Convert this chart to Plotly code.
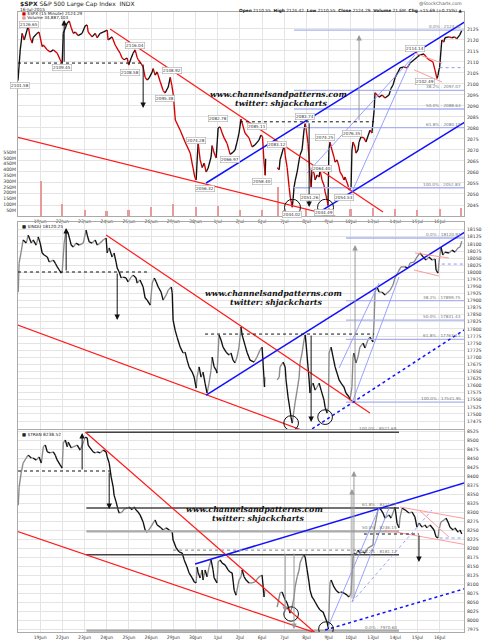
import plotly.graph_objects as go

# ---------------- data ----------------
day_labels = ["19Jun", "22Jun", "23Jun", "24Jun", "25Jun", "26Jun", "29Jun", "30Jun", "1Jul", "2Jul",
              "6Jul", "7Jul", "8Jul", "9Jul", "10Jul", "13Jul", "14Jul", "15Jul", "16Jul"]
day_ticks = list(range(1, 20))   # session index (0 = 18Jun)

# $SPX 15-min closes (session time, price)
spx_pts = [
    (0.00, 2101.6), (0.10, 2115.5), (0.19, 2123.0), (0.28, 2120.0), (0.46, 2126.4), (0.55, 2121.0),
    (0.64, 2118.6), (0.68, 2121.0), (0.86, 2123.0), (0.95, 2123.6),
    (1.09, 2117.0), (1.14, 2117.7), (1.32, 2115.5), (1.45, 2114.5), (1.59, 2115.5), (1.77, 2114.0),
    (1.90, 2111.0), (1.99, 2109.5),
    (2.04, 2123.0), (2.22, 2127.7), (2.31, 2128.6), (2.40, 2125.5), (2.49, 2123.0), (2.58, 2123.6),
    (2.71, 2122.0), (2.89, 2123.0),
    (3.03, 2126.4), (3.12, 2126.8), (3.16, 2123.6), (3.34, 2121.4), (3.48, 2123.0), (3.57, 2121.0),
    (3.70, 2123.0), (3.84, 2123.6),
    (4.02, 2124.5), (4.06, 2120.0), (4.24, 2121.4), (4.38, 2117.7), (4.51, 2115.5), (4.60, 2114.0),
    (4.69, 2111.8), (4.78, 2111.0), (4.92, 2111.8), (4.99, 2108.6),
    (5.10, 2111.8), (5.19, 2114.0), (5.28, 2115.5), (5.37, 2112.0), (5.42, 2111.0), (5.50, 2110.0),
    (5.64, 2107.7), (5.73, 2103.0), (5.82, 2101.8), (5.91, 2102.7),
    (6.05, 2105.5), (6.09, 2107.0), (6.18, 2104.0), (6.27, 2105.5), (6.41, 2101.0), (6.54, 2097.0),
    (6.63, 2095.9), (6.77, 2098.6), (6.86, 2103.0), (6.93, 2099.5),
    (7.00, 2095.0), (7.09, 2083.6), (7.31, 2079.0), (7.53, 2073.6), (7.76, 2068.6), (7.89, 2061.8),
    (7.97, 2057.6),
    (8.03, 2056.4), (8.08, 2066.8), (8.12, 2073.0), (8.21, 2065.5), (8.30, 2062.0), (8.39, 2064.0),
    (8.48, 2060.0), (8.57, 2061.8), (8.70, 2066.8), (8.75, 2072.0), (8.84, 2068.6), (8.93, 2066.4),
    (9.02, 2080.0), (9.11, 2080.5), (9.20, 2077.7), (9.29, 2075.5), (9.42, 2073.0), (9.56, 2068.0),
    (9.69, 2069.0), (9.78, 2070.0), (9.87, 2073.6), (9.96, 2077.7),
    (10.05, 2084.0), (10.23, 2077.7), (10.41, 2075.5), (10.55, 2071.4), (10.68, 2072.3),
    (10.86, 2074.5), (10.95, 2076.8),
    (11.02, 2076.0), (11.08, 2065.5), (11.14, 2058.5), (11.16, 2066.0), (None, None),
    (11.68, 2062.0), (11.77, 2061.0), (11.81, 2065.5), (11.90, 2068.6),
    (12.00, 2072.3), (12.04, 2067.7), (12.13, 2062.0), (12.22, 2053.0), (12.27, 2048.6),
    (12.36, 2044.0), (12.40, 2048.0), (12.44, 2053.0), (12.49, 2056.0), (12.58, 2060.0),
    (12.67, 2065.5), (12.71, 2067.7), (12.80, 2070.0), (12.89, 2079.0), (12.94, 2082.0), (12.98, 2080.0),
    (13.07, 2073.0), (13.12, 2065.5), (13.16, 2057.7), (13.21, 2053.0), (13.25, 2061.0),
    (13.34, 2059.5), (13.39, 2056.4), (13.48, 2058.6), (13.57, 2057.7), (13.61, 2061.0),
    (13.70, 2056.4), (13.79, 2054.0), (13.84, 2051.0), (13.93, 2047.3), (13.97, 2044.8),
    (14.01, 2070.0), (14.06, 2073.6), (14.15, 2070.0), (14.24, 2066.8), (14.29, 2064.5),
    (14.38, 2065.5), (14.47, 2062.3), (14.51, 2060.0), (14.60, 2058.6), (14.69, 2056.4),
    (14.74, 2057.7), (14.87, 2054.0), (14.92, 2051.8),
    (15.01, 2053.0), (15.05, 2070.0), (15.10, 2073.6), (15.19, 2071.4), (15.23, 2068.6),
    (15.32, 2070.0), (15.37, 2073.6), (15.46, 2076.0), (15.59, 2075.5), (15.68, 2073.6),
    (15.82, 2077.7), (15.86, 2079.0), (15.95, 2077.7),
    (16.05, 2088.0), (16.09, 2096.0), (16.27, 2094.0), (16.41, 2095.0), (16.54, 2093.6),
    (16.72, 2095.0), (16.81, 2098.0), (16.90, 2099.5),
    (17.00, 2103.0), (17.13, 2105.5), (17.22, 2107.3), (17.40, 2107.7), (17.54, 2107.3),
    (17.67, 2109.5), (17.85, 2111.0),
    (18.00, 2112.3), (18.12, 2113.2), (18.30, 2113.6), (18.43, 2111.8), (18.52, 2111.0),
    (18.70, 2110.0), (18.79, 2106.4), (18.88, 2102.5), (18.93, 2104.0), (18.97, 2106.4),
    (19.00, 2107.4), (19.10, 2120.0), (19.19, 2119.0), (19.24, 2121.0), (19.42, 2121.4),
    (19.55, 2121.0), (19.68, 2121.4), (19.77, 2120.5), (19.91, 2122.3), (20.00, 2124.3),
]

# $INDU 15-min closes
indu_pts = [
    (0.01, 17930), (0.05, 18032), (0.14, 18071), (0.23, 18114), (0.37, 18103), (0.46, 18131),
    (0.60, 18103), (0.68, 18114), (0.82, 18096), (0.91, 18125),
    (1.00, 18103), (1.09, 18068), (1.18, 18061), (1.32, 18054), (1.41, 18036), (1.59, 18043),
    (1.68, 18032), (1.77, 18019), (1.86, 18008), (1.95, 17997), (1.99, 18001),
    (2.08, 18103), (2.17, 18149), (2.26, 18138), (2.40, 18096), (2.49, 18089), (2.62, 18103),
    (2.76, 18096), (2.94, 18103),
    (3.07, 18149), (3.12, 18131), (3.21, 18107), (3.34, 18103), (3.48, 18114), (3.57, 18096),
    (3.70, 18103), (3.84, 18114), (3.97, 18121),
    (4.02, 18068), (4.11, 18086), (4.24, 18054), (4.33, 18068), (4.42, 18036), (4.47, 18015),
    (4.56, 18001), (4.65, 17980), (4.74, 17983), (4.87, 17980), (4.96, 17966),
    (5.10, 17983), (5.19, 17990), (5.32, 17980), (5.37, 17962), (5.50, 17973), (5.64, 17948),
    (5.73, 17909), (5.82, 17902), (5.96, 17884),
    (6.05, 17962), (6.14, 17980), (6.23, 17966), (6.32, 17948), (6.45, 17930), (6.54, 17902),
    (6.68, 17920), (6.77, 17937), (6.91, 17948), (6.95, 17927),
    (6.99, 17831), (7.08, 17796), (7.17, 17771), (7.31, 17736), (7.44, 17715), (7.53, 17718),
    (7.62, 17690), (7.71, 17666), (7.85, 17648), (7.94, 17630),
    (8.03, 17591), (8.07, 17630), (8.16, 17666), (8.25, 17630), (8.34, 17648), (8.43, 17609),
    (8.52, 17574), (8.61, 17609), (8.70, 17655), (8.75, 17701), (8.84, 17666), (8.93, 17655),
    (8.97, 17644),
    (9.06, 17779), (9.15, 17761), (9.24, 17736), (9.38, 17718), (9.51, 17708), (9.60, 17715),
    (9.69, 17690), (9.78, 17680), (9.87, 17701), (9.96, 17736),
    (10.05, 17807), (10.10, 17779), (10.23, 17743), (10.32, 17718), (10.46, 17690),
    (10.64, 17683), (10.77, 17701), (10.91, 17726),
    (11.00, 17736), (11.09, 17620), (11.11, 17595), (11.13, 17630), (None, None),
    (11.68, 17620), (11.77, 17630), (11.81, 17666), (11.95, 17683),
    (12.04, 17666), (12.08, 17620), (12.17, 17560), (12.26, 17514), (12.31, 17486),
    (12.36, 17468), (12.44, 17514), (12.49, 17542), (12.58, 17584), (12.67, 17630),
    (12.71, 17680), (12.80, 17715), (12.89, 17761), (12.94, 17779), (12.98, 17750),
    (13.07, 17666), (13.12, 17620), (13.16, 17574), (13.21, 17595), (13.30, 17609),
    (13.39, 17584), (13.48, 17595), (13.57, 17609), (13.66, 17584), (13.79, 17549),
    (13.84, 17524), (13.93, 17503), (13.99, 17524),
    (14.02, 17715), (14.11, 17736), (14.20, 17701), (14.29, 17666), (14.38, 17644),
    (14.47, 17620), (14.56, 17609), (14.69, 17595), (14.78, 17574), (14.92, 17560), (14.96, 17549),
    (15.05, 17595), (15.10, 17701), (15.14, 17715), (15.23, 17680), (15.32, 17701),
    (15.41, 17736), (15.55, 17750), (15.64, 17733), (15.77, 17761), (15.86, 17771), (16.00, 17754),
    (16.05, 17832), (16.09, 17930), (16.18, 17948), (16.27, 17930), (16.41, 17930),
    (16.54, 17920), (16.63, 17927), (16.77, 17937), (16.90, 17955),
    (16.99, 17980), (17.13, 18001), (17.26, 18019), (17.44, 18019), (17.58, 18015),
    (17.67, 18033), (17.85, 18036),
    (17.98, 18054), (18.12, 18068), (18.30, 18050), (18.39, 18043), (18.52, 18054),
    (18.66, 18043), (18.80, 18047), (18.84, 18008), (18.93, 17997), (18.97, 18033),
    (19.06, 18089), (19.15, 18061), (19.24, 18071), (19.42, 18068), (19.56, 18078),
    (19.69, 18071), (19.83, 18086), (19.92, 18089), (20.00, 18110),
]

# $TRAN 15-min closes
tran_pts = [
    (0.01, 8319), (0.05, 8369), (0.14, 8408), (0.23, 8436), (0.37, 8450), (0.46, 8458),
    (0.60, 8450), (0.68, 8450), (0.82, 8444), (0.95, 8453),
    (1.05, 8436), (1.14, 8481), (1.23, 8486), (1.32, 8467), (1.45, 8464), (1.59, 8467),
    (1.68, 8458), (1.77, 8444), (1.90, 8431), (1.99, 8422),
    (2.04, 8492), (2.13, 8500), (2.22, 8481), (2.26, 8494), (2.40, 8478), (2.49, 8481),
    (2.67, 8486), (2.80, 8472), (2.94, 8492),
    (3.03, 8508), (3.12, 8506), (3.16, 8486), (3.25, 8478), (3.39, 8467), (3.48, 8464),
    (3.57, 8467), (3.70, 8464), (3.84, 8472), (3.97, 8467),
    (4.02, 8453), (4.11, 8436), (4.20, 8397), (4.29, 8369), (4.33, 8347), (4.42, 8328),
    (4.51, 8306), (4.56, 8297), (4.69, 8300), (4.78, 8308), (4.92, 8311),
    (5.01, 8314), (5.14, 8306), (5.23, 8314), (5.32, 8306), (5.41, 8300), (5.50, 8292),
    (5.64, 8272), (5.73, 8250), (5.82, 8244), (5.96, 8256),
    (6.09, 8269), (6.18, 8278), (6.27, 8264), (6.41, 8258), (6.54, 8250), (6.68, 8256),
    (6.81, 8250), (6.95, 8244),
    (6.99, 8222), (7.13, 8200), (7.26, 8189), (7.40, 8186), (7.49, 8167), (7.62, 8147),
    (7.71, 8131), (7.85, 8117), (7.94, 8106),
    (8.03, 8103), (8.07, 8147), (8.12, 8131), (8.21, 8117), (8.30, 8139), (8.34, 8111),
    (8.43, 8139), (8.52, 8120), (8.61, 8147), (8.70, 8167), (8.79, 8139), (8.84, 8117), (8.97, 8103),
    (9.02, 8161), (9.11, 8167), (9.20, 8158), (9.33, 8153), (9.47, 8139), (9.56, 8133),
    (9.65, 8131), (9.69, 8111), (9.74, 8083), (9.83, 8069), (9.87, 8083), (9.96, 8111),
    (10.05, 8120), (10.10, 8139), (10.19, 8120), (10.28, 8111), (10.41, 8103), (10.55, 8103),
    (10.68, 8106), (10.86, 8120),
    (11.00, 8125), (11.09, 8064), (11.13, 8083), (None, None),
    (11.68, 8036), (11.81, 8075), (11.90, 8078),
    (11.99, 8064), (12.04, 8056), (12.13, 8047), (12.22, 8028), (12.26, 8019), (12.35, 8036),
    (12.44, 8064), (12.49, 8092), (12.58, 8120), (12.67, 8139), (12.71, 8158), (12.80, 8172),
    (12.89, 8181), (12.94, 8175),
    (13.03, 8139), (13.12, 8103), (13.16, 8083), (13.25, 8064), (13.34, 8056), (13.39, 8050),
    (13.52, 8036), (13.61, 8028), (13.75, 8022), (13.84, 8008), (13.93, 7994), (13.99, 7975),
    (14.06, 8103), (14.11, 8111), (14.24, 8092), (14.33, 8083), (14.47, 8075), (14.56, 8078),
    (14.69, 8075), (14.83, 8069), (14.92, 8064),
    (15.01, 8075), (15.10, 8175), (15.14, 8186), (15.23, 8181), (15.32, 8194), (15.41, 8186),
    (15.55, 8189), (15.64, 8186), (15.77, 8200), (15.86, 8203), (16.00, 8208),
    (16.05, 8250), (16.14, 8278), (16.22, 8306), (16.31, 8311), (16.45, 8297), (16.54, 8283),
    (16.72, 8292), (16.81, 8283), (16.95, 8306),
    (16.99, 8314), (17.08, 8269), (17.17, 8256), (17.22, 8286), (17.31, 8311), (17.44, 8306),
    (17.62, 8297), (17.76, 8300), (17.89, 8286),
    (17.98, 8258), (18.07, 8269), (18.21, 8258), (18.34, 8264), (18.43, 8256), (18.57, 8264),
    (18.75, 8250), (18.84, 8231), (18.93, 8228), (18.97, 8250),
    (19.06, 8272), (19.20, 8278), (19.29, 8283), (19.38, 8272), (19.47, 8258), (19.61, 8250),
    (19.69, 8256), (19.83, 8244), (19.92, 8250), (20.00, 8239),
]

# $SPX volume spikes (millions)
vol_t = [1.02, 2.0, 3.0, 4.0, 5.0, 6.0, 7.0, 8.0, 9.0, 10.0, 11.0, 11.72, 12.0, 13.0, 14.0,
         15.0, 16.0, 17.0, 18.0, 19.0, 19.98]
vol_m = [300, 105, 55, 45, 55, 75, 105, 75, 85, 55, 55, 250, 50, 60, 70, 60, 65, 60, 55, 60, 70]

# price-point labels on $SPX
spx_labels = [
    (0.10, 2099.1, "2101.58"), (0.50, 2127.2, "2126.65"), (1.99, 2107.3, "2109.45"),
    (5.28, 2117.3, "2116.04"), (5.05, 2105.0, "2108.58"), (6.95, 2105.9, "2108.92"),
    (6.63, 2093.2, "2095.38"), (8.03, 2074.5, "2074.28"), (8.43, 2052.7, "2056.32"),
    (9.02, 2084.1, "2082.78"), (9.56, 2065.9, "2066.97"), (10.77, 2080.5, "2085.11"),
    (11.01, 2055.5, "2058.40"), (11.68, 2072.3, "2083.12"), (12.35, 2040.8, "2044.02"),
    (12.94, 2085.0, "2083.74"), (13.70, 2061.4, "2064.40"), (13.16, 2048.6, "2051.26"),
    (13.84, 2075.5, "2074.25"), (13.79, 2041.4, "2044.49"), (14.69, 2048.2, "2054.53"),
    (15.05, 2077.7, "2076.35"), (17.89, 2115.9, "2114.14"), (18.35, 2100.9, "2102.49"),
]

fib_pct = ["0.0%", "38.2%", "50.0%", "61.8%", "100.0%"]
spx_fib = [2124.42, 2097.07, 2088.63, 2080.18, 2052.83]
indu_fib = [18120.91, 17899.75, 17831.43, 17763.11, 17541.95]
tran_fib_pct = ["100.0%", "61.8%", "50.0%", "38.2%", "0.0%"]
tran_fib = [8521.69, 8311.17, 8246.15, 8181.12, 7970.60]

# analyst trendlines: (t0, p0, t1, p1)
spx_red = [(4.15, 2125.0, 16.45, 2041.8), (-0.80, 2077.7, 15.50, 2036.8)]
spx_blue = [(8.48, 2055.0, 21.0, 2133.6), (13.52, 2041.4, 21.0, 2088.0)]
spx_thin = [(13.03, 2059.5, 17.89, 2113.2), (15.05, 2050.9, 17.67, 2110.0)]
spx_pink = [(17.85, 2114.1, 19.11, 2109.5), (17.85, 2106.4, 19.11, 2100.9)]
indu_red = [(3.97, 18131.5, 15.86, 17503.2), (-0.26, 17820.9, 13.03, 17436.1)]
indu_blue = [(8.48, 17566.7, 21.0, 18184.4)]
indu_blue_dot = [(13.03, 17436.1, 21.0, 17842.0)]
indu_thin = [(14.47, 17662.0, 16.27, 17962.1), (15.05, 17538.5, 17.17, 17983.2)]
indu_pink = [(17.89, 18068, 19.42, 18050.3), (17.85, 18008, 18.97, 17986.8)]
tran_red = [(3.03, 8522.2, 13.56, 7955.6), (-0.35, 8252.8, 13.56, 7961.1)]
tran_blue = [(7.98, 8155.6, 21.0, 8397.2)]
tran_blue_dot = [(13.84, 7972.2, 21.0, 8102.8)]
tran_thin = [(13.93, 7975, 16.27, 8311.1), (15.05, 8050, 16.72, 8311.1)]
tran_thin_dot = [(15.05, 8050, 18.66, 8305.6)]
tran_pink = [(17.22, 8313.9, 21.0, 8272.2), (16.54, 8250, 21.0, 8200), (18.07, 8305.6, 19.42, 8230.6)]

# horizontal dotted levels: (t0, t1, price)
spx_dot_blk = [(0.0, 5.64, 2109.5), (10.0, 16.05, 2082.8)]
spx_dot_blue = [(19.0, 20.1, 2107.4)]
indu_dot_blk = [(0.0, 5.82, 18001), (8.43, 16.05, 17782)]
indu_dot_blue = [(19.1, 20.1, 18029)]
tran_dot_blk = [(0.0, 4.15, 8413.9), (15.59, 18.07, 8238.9)]
tran_dot_gray = [(6.99, 16.05, 8194.4)]
tran_dot_blue = [(19.0, 20.1, 8227.8)]

# projection arrows: (t, from, to)
spx_arrows = [(2.08, 2109.5, 2129.1), (5.64, 2109.5, 2089.1), (13.12, 2082.8, 2044.1)]
spx_arrows_gray = [(15.37, 2082.8, 2122.3)]
indu_arrows = [(2.17, 18001, 18156), (4.47, 18001, 17831.5), (13.21, 17782, 17471.4)]
indu_arrows_gray = [(15.19, 17538.5, 18096.2)]
tran_arrows = [(2.89, 8413.9, 8519.4), (4.11, 8413.9, 8308.3), (18.07, 8238.9, 8161.1)]
tran_arrows_gray = [(15.05, 8055.6, 8363.9), (15.14, 8055.6, 8413.9),
                    (12.04, 8188.9, 8022.2), (12.44, 8188.9, 7975)]

# circled lows: (t, price)
spx_circles = [(12.37, 2043.9), (13.86, 2043.9)]
indu_circles = [(12.31, 17468), (13.84, 17489)]
tran_circles = [(12.31, 8016.7), (13.88, 7975.0)]

# ---------------- layout helpers ----------------
W, H = 484, 640
def px(x): return x / W
def py(y): return 1 - y / H

XDOM = [px(18), px(464)]
XR = [0, 20.1]
D1 = [py(216), py(12)]
D2 = [py(429), py(222)]
D3 = [py(632), py(430)]
R1 = [2040.0, 2132.7]
R2 = [17447.0, 18177.4]
R3 = [7966.7, 8527.8]
VOLR = [0, 1758.6]

TXT = "DejaVu Sans"
RED = "#ff1a1a"
BLUE = "#1010ff"
THIN = "#8c96ff"
FIB = "#aab2f2"
PINK = "#ff9a9a"

fig = go.Figure()

def split_pts(pts):
    return [p[0] for p in pts], [p[1] for p in pts]

def dir_segments(ts, ps, up):
    xs, ys = [], []
    for i in range(1, len(ts)):
        if ps[i] is None or ps[i - 1] is None:
            continue
        if (ps[i] >= ps[i - 1]) == up:
            xs += [ts[i - 1], ts[i], None]
            ys += [ps[i - 1], ps[i], None]
    return xs, ys

# volume
fig.add_trace(go.Bar(x=vol_t, y=vol_m, width=0.09, marker=dict(color="#e79a9a", line=dict(width=0)),
                     xaxis="x", yaxis="y", hoverinfo="skip"))

for pts, xa, ya, up_col, dn_col in [(spx_pts, "x", "y2", "#111111", "#d40000"),
                                     (indu_pts, "x2", "y3", "#8a8a8a", "#111111"),
                                     (tran_pts, "x3", "y4", "#8a8a8a", "#111111")]:
    ts, ps = split_pts(pts)
    for up, col in [(True, up_col), (False, dn_col)]:
        sx, sy = dir_segments(ts, ps, up)
        fig.add_trace(go.Scatter(x=sx, y=sy, mode="lines", line=dict(color=col, width=1.35),
                                 xaxis=xa, yaxis=ya, hoverinfo="skip"))

shapes, annos = [], []

def lines(xr, yr, segs, color, width=1.0, dash="solid"):
    for t0, p0, t1, p1 in segs:
        shapes.append(dict(type="line", xref=xr, yref=yr, x0=t0, y0=p0, x1=t1, y1=p1,
                           line=dict(color=color, width=width, dash=dash)))

def hlines(xr, yr, segs, color, width=1.0, dash="dot"):
    for t0, t1, p in segs:
        shapes.append(dict(type="line", xref=xr, yref=yr, x0=t0, y0=p, x1=t1, y1=p,
                           line=dict(color=color, width=width, dash=dash)))

def arrows(xr, yr, arr, color):
    for t, p0, p1 in arr:
        annos.append(dict(xref=xr, yref=yr, axref=xr, ayref=yr, x=t, y=p1, ax=t, ay=p0, text="",
                          showarrow=True, arrowhead=2, arrowsize=1.1, arrowwidth=1,
                          arrowcolor=color))

def circles(xr, yr, cs, rt, rp):
    for t, p in cs:
        shapes.append(dict(type="circle", xref=xr, yref=yr, x0=t - rt, x1=t + rt, y0=p - rp, y1=p + rp,
                           line=dict(color="#111", width=1)))

def fibs(xr, yr, t0, t1, levels, pcts, colors, widths, lab_t, fsize=4.2):
    for lv, pc, c, w in zip(levels, pcts, colors, widths):
        shapes.append(dict(type="line", xref=xr, yref=yr, x0=t0, x1=t1, y0=lv, y1=lv,
                           line=dict(color=c, width=w)))
        annos.append(dict(xref=xr, yref=yr, x=lab_t, y=lv, text=f"{pc} : {lv:.2f}", showarrow=False,
                          xanchor="right", yanchor="bottom", yshift=-1,
                          font=dict(family=TXT, size=fsize, color="#777")))

# panel 1 ($SPX)
fibs("x", "y2", 12.44, 20.1, spx_fib, fib_pct, [FIB] * 5, [1.3] * 5, 20.05)
lines("x", "y2", spx_red, RED, 1.2)
lines("x", "y2", spx_blue, BLUE, 1.5)
lines("x", "y2", spx_thin, THIN, 0.9)
lines("x", "y2", spx_pink, PINK, 1.0)
hlines("x", "y2", spx_dot_blk, "#111", 1.0)
hlines("x", "y2", spx_dot_blue, "#8c96ff", 1.0)
arrows("x", "y2", spx_arrows, "#111")
arrows("x", "y2", spx_arrows_gray, "#999")
circles("x", "y2", spx_circles, 0.36, 3.7)

# panel 2 ($INDU)
fibs("x2", "y3", 14.78, 20.1, indu_fib, fib_pct, [FIB] * 5, [1.3] * 5, 20.05)
lines("x2", "y3", indu_red, RED, 1.2)
lines("x2", "y3", indu_blue, BLUE, 1.5)
lines("x2", "y3", indu_blue_dot, BLUE, 1.5, "dot")
lines("x2", "y3", indu_thin, THIN, 0.9)
lines("x2", "y3", indu_pink, PINK, 1.0)
hlines("x2", "y3", indu_dot_blk, "#111", 1.0)
hlines("x2", "y3", indu_dot_blue, "#8c96ff", 1.0)
arrows("x2", "y3", indu_arrows, "#111")
arrows("x2", "y3", indu_arrows_gray, "#999")
circles("x2", "y3", indu_circles, 0.33, 26)

# panel 3 ($TRAN)
fibs("x3", "y4", 3.08, 17.17, tran_fib, tran_fib_pct,
     ["#444", "#444", "#aaa", "#444", "#aaa"], [1.6, 1.6, 2.2, 1.6, 2.4], 17.15)
lines("x3", "y4", tran_red, RED, 1.2)
lines("x3", "y4", tran_blue, BLUE, 1.5)
lines("x3", "y4", tran_blue_dot, BLUE, 1.5, "dot")
lines("x3", "y4", tran_thin, THIN, 0.9)
lines("x3", "y4", tran_thin_dot, THIN, 0.9, "dot")
lines("x3", "y4", tran_pink, PINK, 1.0)
hlines("x3", "y4", tran_dot_blk, "#111", 1.0)
hlines("x3", "y4", tran_dot_gray, "#999", 1.2)
hlines("x3", "y4", tran_dot_blue, "#8c96ff", 1.0)
arrows("x3", "y4", tran_arrows, "#111")
arrows("x3", "y4", tran_arrows_gray, "#999")
circles("x3", "y4", tran_circles, 0.33, 20)

# price labels
for t, p, s in spx_labels:
    annos.append(dict(xref="x", yref="y2", x=t, y=p, text=s, showarrow=False,
                      font=dict(family=TXT, size=4.2, color="#333"),
                      bgcolor="white", bordercolor="#aaa", borderwidth=0.6, borderpad=0.5))

# watermarks
wm_font = dict(family="DejaVu Serif", size=7.9, color="#111", style="italic", weight="bold")
for (cx, y1, y2) in [(278, 88, 97), (273, 293, 302), (255, 516, 525)]:
    annos.append(dict(xref="paper", yref="paper", x=px(cx), y=py(y1), text="www.channelsandpatterns.com",
                      showarrow=False, font=wm_font))
    annos.append(dict(xref="paper", yref="paper", x=px(cx + 3), y=py(y2), text="twitter: shjackcharts",
                      showarrow=False, font=wm_font))

def ptxt(x, y, s, size=5, anchor="left", color="#222"):
    annos.append(dict(xref="paper", yref="paper", x=px(x), y=py(y), text=s, showarrow=False,
                      xanchor=anchor, yanchor="middle", font=dict(family=TXT, size=size, color=color)))

ptxt(18, 4, "<b>$SPX</b> S&P 500 Large Cap Index  INDX", 6)
ptxt(18, 9.5, "16-Jul-2015", 4.3)
ptxt(20, 14, "<span style='color:#d40000'>■</span> $SPX (15 Minute) 2124.29", 4.2)
ptxt(20, 18, "<span style='color:#e79a9a'>■</span> Volume 34,887,103", 4.2)
ptxt(464, 4, "@StockCharts.com", 4.5, "right", "#555")
ptxt(464, 10.5, "<b>Open</b> 2110.55  <b>High</b> 2124.42  <b>Low</b> 2110.55  <b>Close</b> 2124.29  "
     "<b>Volume</b> 21.6M  <b>Chg</b> +15.69 (+0.75%) ▲", 4.3, "right")
ptxt(20, 226, "■ $INDU 18120.25", 4.3)
ptxt(20, 434, "■ $TRAN 8238.52", 4.3)

axfont = dict(family=TXT, size=4.6, color="#333")
GRID = "#e4e4e4"
xcommon = dict(domain=XDOM, range=XR, tickvals=day_ticks, ticktext=day_labels, showgrid=True,
               gridcolor=GRID, gridwidth=0.8, zeroline=False, showline=True, linecolor="#aaa",
               linewidth=1, mirror=True, ticks="", tickfont=axfont)
ycommon = dict(side="right", showgrid=True, gridcolor=GRID, gridwidth=0.8, zeroline=False,
               tickfont=axfont, ticks="", showline=True, linecolor="#aaa", mirror=True,
               ticklabelstandoff=1, tickformat="d")

fig.update_layout(
    width=W, height=H, margin=dict(l=0, r=0, t=0, b=0), paper_bgcolor="white", plot_bgcolor="white",
    showlegend=False, bargap=0,
    xaxis=dict(**xcommon, anchor="y"),
    xaxis2=dict(**{**xcommon, "showticklabels": False}, anchor="y3"),
    xaxis3=dict(**xcommon, anchor="y4"),
    yaxis=dict(domain=D1, range=VOLR, side="left", anchor="x", tickvals=list(range(50, 600, 50)),
               ticktext=[f"{v}M" for v in range(50, 600, 50)], showgrid=False, zeroline=False,
               tickfont=axfont, ticks="", ticklabelstandoff=1),
    yaxis2=dict(**ycommon, overlaying="y", anchor="x", range=R1, tickvals=list(range(2045, 2130, 5))),
    yaxis3=dict(**ycommon, domain=D2, anchor="x2", range=R2, tickvals=list(range(17475, 18175, 25))),
    yaxis4=dict(**ycommon, domain=D3, anchor="x3", range=R3, tickvals=list(range(7975, 8550, 25))),
    shapes=shapes, annotations=annos,
)

fig.write_html("out.html", config={"displayModeBar": False})

# remove the page's default body margin so the 484x640 figure fits the window exactly
with open("out.html", "r", encoding="utf-8") as f:
    html = f.read()
html = html.replace("<head>", "<head><style>html,body{margin:0;padding:0;overflow:hidden;}</style>", 1)
with open("out.html", "w", encoding="utf-8") as f:
    f.write(html)
